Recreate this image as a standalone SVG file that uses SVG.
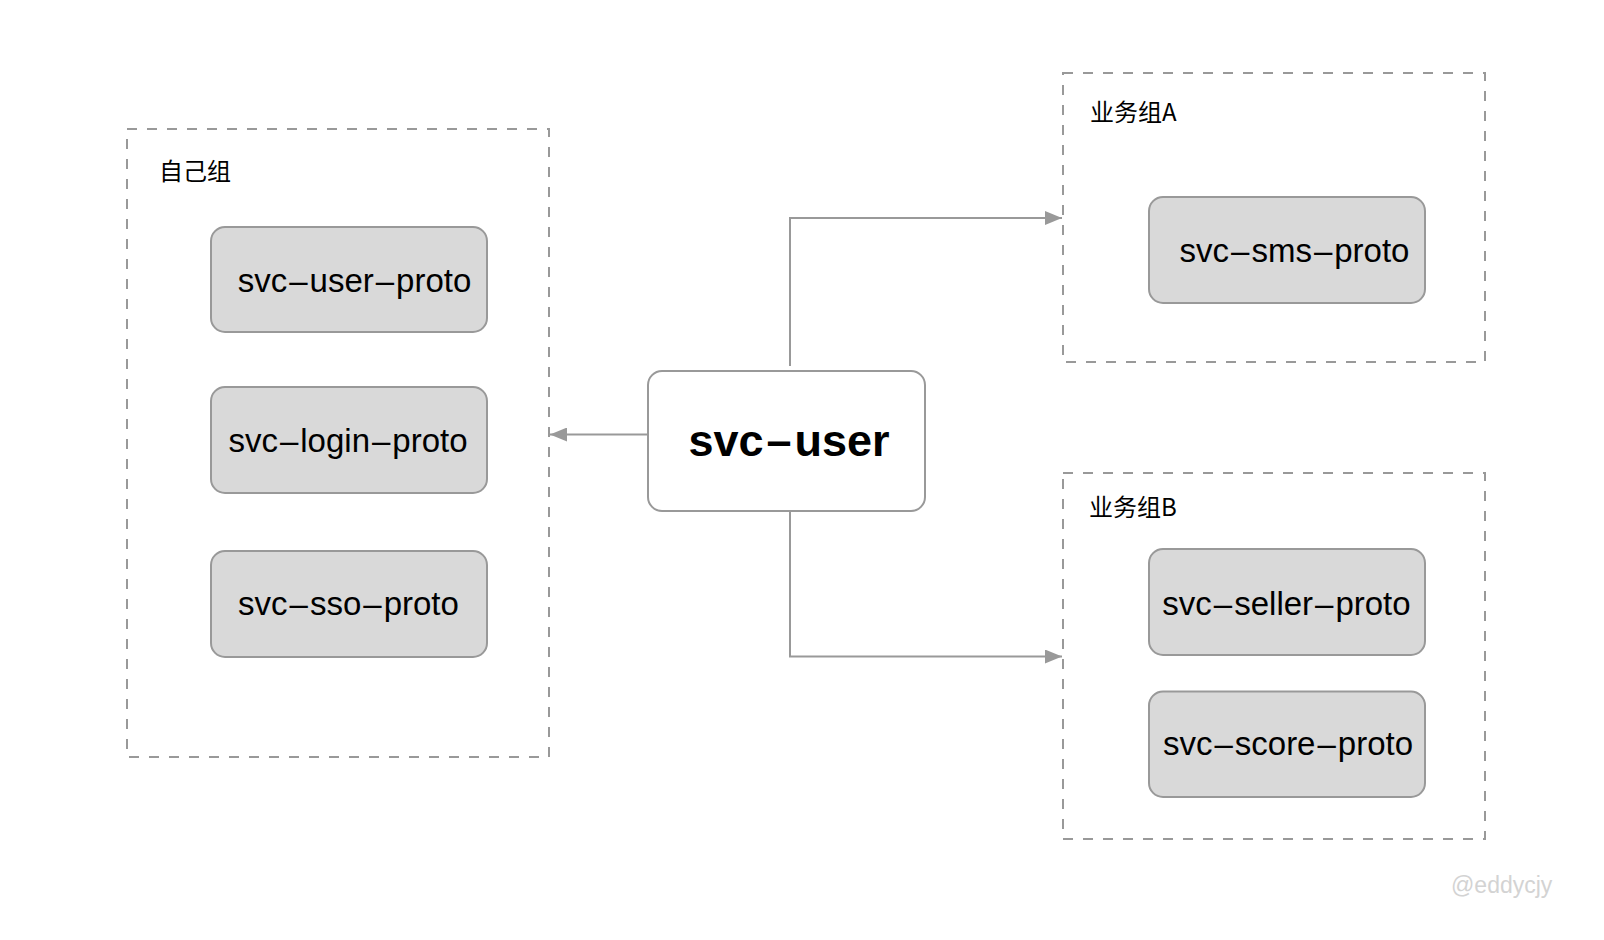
<svg xmlns="http://www.w3.org/2000/svg" width="1604" height="940" viewBox="0 0 1604 940">
<style>
.grp{fill:none;stroke:#999;stroke-width:2;stroke-dasharray:10 10}
.glabel{font-family:"Noto Sans CJK SC","Noto Sans",sans-serif;font-size:24px;fill:#000}
.proto{fill:#d9d9d9;stroke:#999;stroke-width:2}
.ptext{font-family:"Liberation Sans",Arial,sans-serif;font-size:33px;fill:#000;text-anchor:middle}
.conn{fill:none;stroke:#999;stroke-width:2}
</style>
<defs>
<marker id="arr" viewBox="0 0 17 14" refX="17" refY="7" markerWidth="17" markerHeight="14" markerUnits="userSpaceOnUse" orient="auto">
<path d="M0,0 L17,7 L0,14 Z" fill="#999"/>
</marker>
</defs>
<rect width="1604" height="940" fill="#fff"/>
<g id="group-self">
<rect class="grp" x="127" y="129" width="422" height="628"/>
<text class="glabel" x="159" y="180">自己组</text>
</g>
<g id="group-a">
<rect class="grp" x="1063" y="73" width="422" height="289"/>
<text class="glabel" x="1090" y="121">业务组A</text>
</g>
<g id="group-b">
<rect class="grp" x="1063" y="473" width="422" height="366"/>
<text class="glabel" x="1089" y="516">业务组B</text>
</g>
<g id="connectors">
<path class="conn" d="M648,434.5 H550" marker-end="url(#arr)"/>
<path class="conn" d="M790,366 V218 H1062" marker-end="url(#arr)"/>
<path class="conn" d="M790,512 V656.5 H1062" marker-end="url(#arr)"/>
</g>
<g id="svc-user">
<rect x="648" y="371" width="277" height="140" rx="14" fill="#fff" stroke="#999" stroke-width="2"/>
<text x="789" y="456" font-family="'Liberation Sans',Arial,sans-serif" font-size="45" font-weight="bold" text-anchor="middle" fill="#000">svc<tspan dx="3">–</tspan><tspan dx="3">user</tspan></text>
</g>
<g id="svc-user-proto">
<rect class="proto" x="211" y="227" width="276" height="105" rx="14"/>
<text class="ptext" x="354.5" y="292">svc<tspan dx="2">–</tspan><tspan dx="2">user</tspan><tspan dx="2">–</tspan><tspan dx="2">proto</tspan></text>
</g>
<g id="svc-login-proto">
<rect class="proto" x="211" y="387" width="276" height="106" rx="14"/>
<text class="ptext" x="348" y="452">svc<tspan dx="2">–</tspan><tspan dx="2">login</tspan><tspan dx="2">–</tspan><tspan dx="2">proto</tspan></text>
</g>
<g id="svc-sso-proto">
<rect class="proto" x="211" y="551" width="276" height="106" rx="14"/>
<text class="ptext" x="348.5" y="615">svc<tspan dx="2">–</tspan><tspan dx="2">sso</tspan><tspan dx="2">–</tspan><tspan dx="2">proto</tspan></text>
</g>
<g id="svc-sms-proto">
<rect class="proto" x="1149" y="197" width="276" height="106" rx="14"/>
<text class="ptext" x="1294.5" y="262">svc<tspan dx="2">–</tspan><tspan dx="2">sms</tspan><tspan dx="2">–</tspan><tspan dx="2">proto</tspan></text>
</g>
<g id="svc-seller-proto">
<rect class="proto" x="1149" y="549" width="276" height="106" rx="14"/>
<text class="ptext" x="1286.5" y="615">svc<tspan dx="2">–</tspan><tspan dx="2">seller</tspan><tspan dx="2">–</tspan><tspan dx="2">proto</tspan></text>
</g>
<g id="svc-score-proto">
<rect class="proto" x="1149" y="691.5" width="276" height="105.5" rx="14"/>
<text class="ptext" x="1288" y="755">svc<tspan dx="2">–</tspan><tspan dx="2">score</tspan><tspan dx="2">–</tspan><tspan dx="2">proto</tspan></text>
</g>
<text x="1451" y="893" font-family="'Liberation Sans',Arial,sans-serif" font-size="23" fill="#d3d3d3">@eddycjy</text>
</svg>
